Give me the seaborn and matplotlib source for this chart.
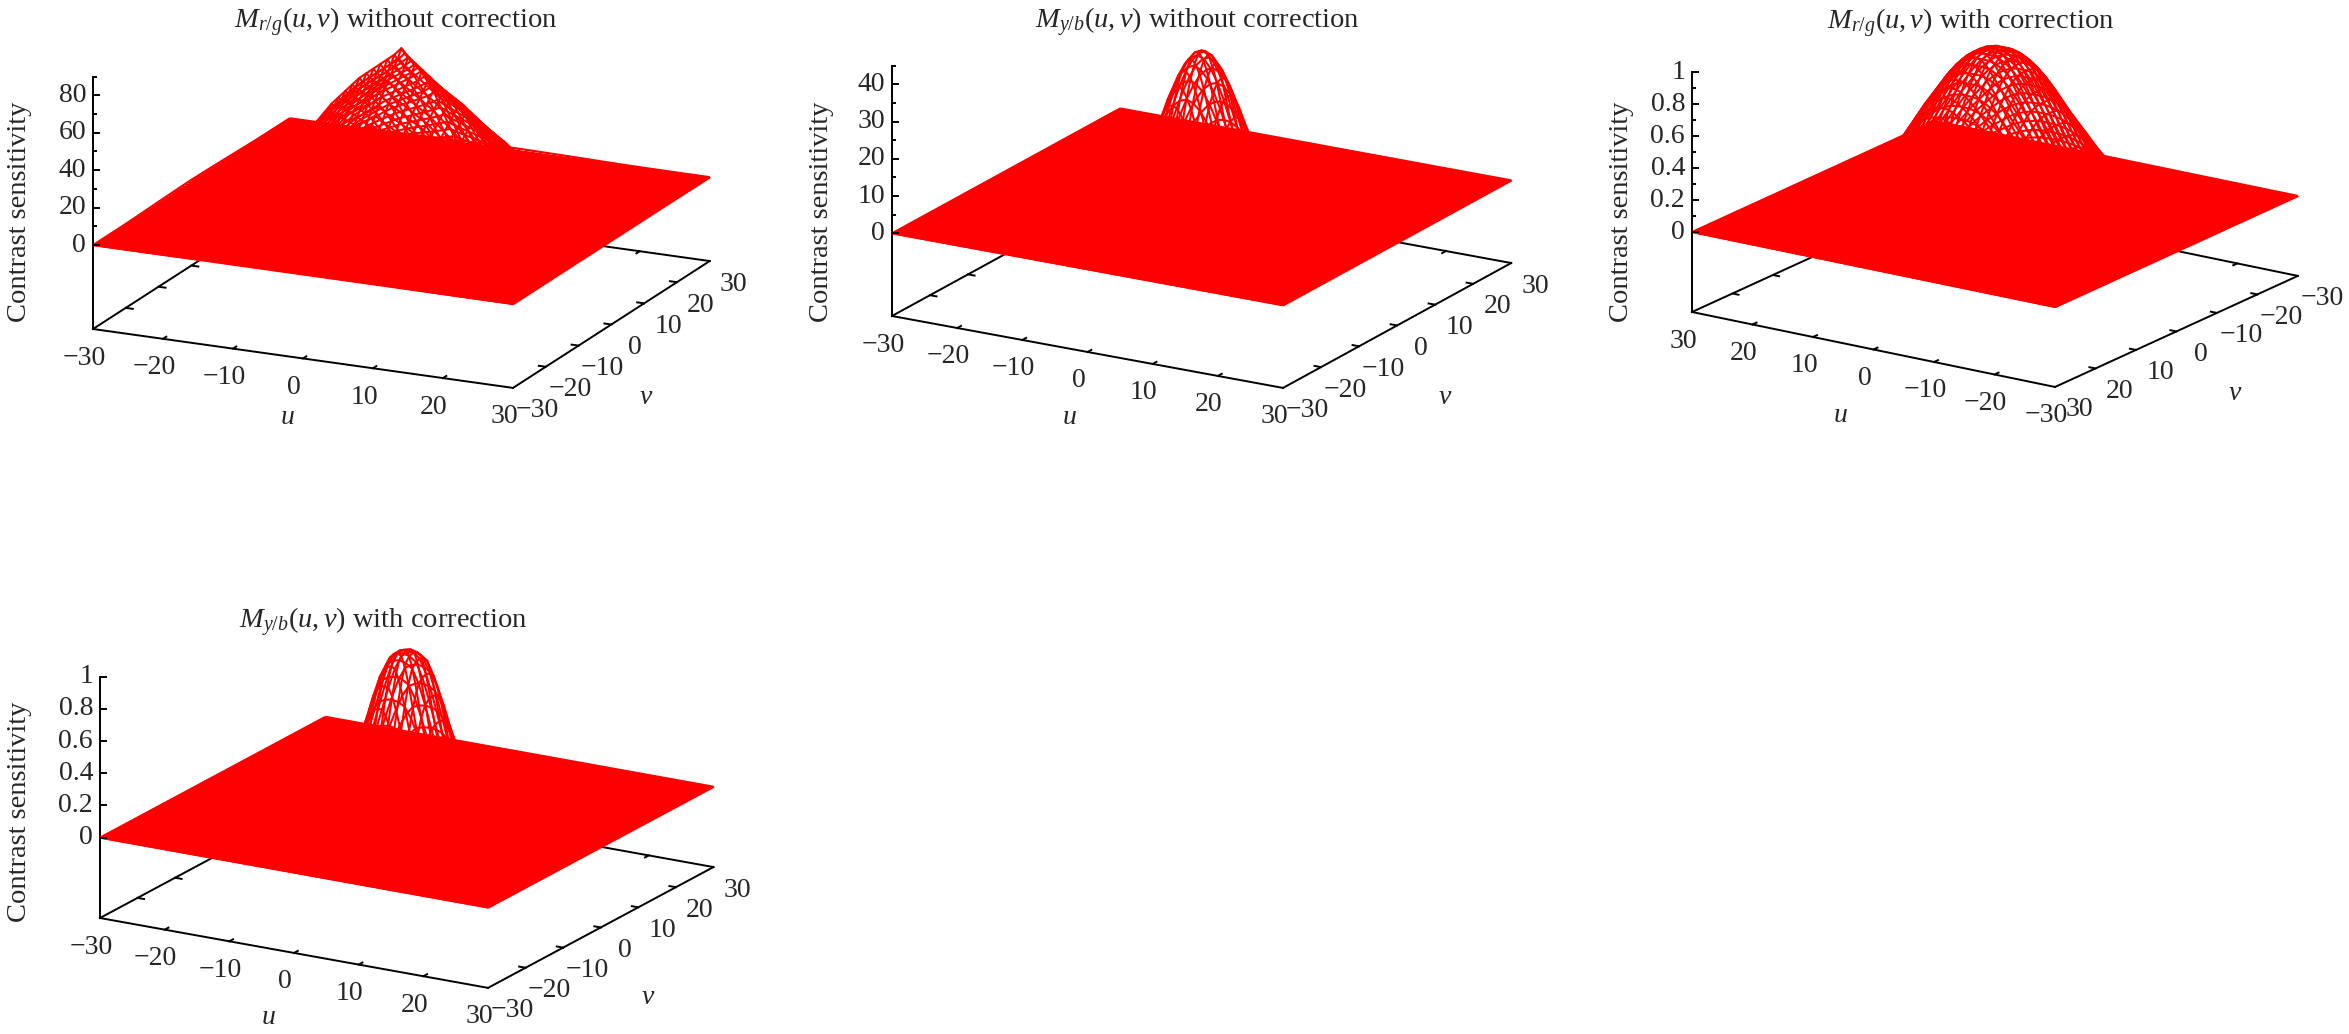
import numpy as np
import matplotlib
matplotlib.use('Agg')
import matplotlib.pyplot as plt
import seaborn as sns
from matplotlib.lines import Line2D
from matplotlib.transforms import IdentityTransform
from mpl_toolkits.mplot3d import proj3d

sns.set_theme(style="white", font="Liberation Serif")
plt.rcParams['mathtext.fontset'] = 'custom'
plt.rcParams['mathtext.rm'] = 'Liberation Serif'
plt.rcParams['mathtext.it'] = 'Liberation Serif:italic'

W, H = 2349, 1034
RED = '#fe0000'

# height of the surface along one axis, for |u| = 0, 1, ... 30
grid = np.arange(-30, 31)
rg_plain = [87, 83, 80, 77, 74, 71, 68, 64, 60, 56, 52, 47, 42, 37, 32, 27, 22, 18, 14, 11,
            8, 6, 5, 4, 3, 3, 2, 2, 2, 1, 1]
yb_plain = [42, 41.2, 39, 35.5, 31, 25.5, 20, 14.5, 10, 6, 3, 1.2, 0.3, 0, 0, 0, 0, 0, 0, 0,
            0, 0, 0, 0, 0, 0, 0, 0, 0, 0, 0]
rg_corr = [1.03, 1.03, 1.02, 1.0, 0.97, 0.93, 0.88, 0.82, 0.76, 0.7, 0.63, 0.56, 0.49, 0.42, 0.35, 0.29,
           0.23, 0.18, 0.14, 0.1, 0.07, 0.05, 0.03, 0.02, 0.01, 0.005, 0, 0, 0, 0, 0]
yb_corr = [1.01, 1.0, 0.97, 0.88, 0.75, 0.6, 0.45, 0.32, 0.2, 0.11, 0.05, 0.02, 0.005, 0, 0, 0,
           0, 0, 0, 0, 0, 0, 0, 0, 0, 0, 0, 0, 0, 0, 0]

uv_ticks = [-30, -20, -10, 0, 10, 20, 30]
z_major = [[0, 20, 40, 60, 80], [0, 10, 20, 30, 40], [0, 0.2, 0.4, 0.6, 0.8, 1], [0, 0.2, 0.4, 0.6, 0.8, 1]]
z_minor = [[10, 30, 50, 70, 90], [5, 15, 25, 35, 45], [0.1, 0.3, 0.5, 0.7, 0.9], []]
z_text = [['0', '20', '40', '60', '80'], ['0', '10', '20', '30', '40'],
          ['0', '0.2', '0.4', '0.6', '0.8', '1'], ['0', '0.2', '0.4', '0.6', '0.8', '1']]
z_limits = [(-44.8, 90), (-22.2, 45), (-0.5, 1), (-0.5, 1)]
titles = [r'$M_{r/g}(u,v)$ without correction', r'$M_{y/b}(u,v)$ without correction',
          r'$M_{r/g}(u,v)$ with correction', r'$M_{y/b}(u,v)$ with correction']
profiles = [rg_plain, yb_plain, rg_corr, yb_corr]

# layout in pixels of the target picture
views = [(17.5, -65), (18.5, -59.9), (17.9, 123.9), (18.1, -59.9)]
aspects = [(464, 466, 265), (452, 455, 264), (437, 435, 252), (449, 450, 254)]
left_corner = [(93, 329), (892, 316), (1692, 312), (100, 918)]
front_corner = [(513, 388), (1283, 388), (2055, 387), (488, 988)]
flip = [1, 1, -1, 1]
title_pos = [(396, 22), (1197, 22), (1971, 23), (383, 622)]
ylabel_pos = [(20, 212), (821, 212), (1622, 212), (20, 812)]
ulabel_pos = [(287, 417), (1069, 418), (1840, 415), (268, 1018)]
vlabel_pos = [(646, 397), (1445, 397), (2235, 394), (648, 997)]
u_off = (-9, 29)
v_off = (24, 23)

fig = plt.figure(figsize=(W / 100, H / 100), dpi=100)


def to_pixels(ax, u, v, z):
    x, y, _ = proj3d.proj_transform(u, v, z, ax.get_proj())
    px = ax.transData.transform((x, y))
    return px[0], H - px[1]


def put_text(x, y, s, **kw):
    fig.text(x / W, 1 - y / H, s, va='center', **kw)


def put_line(xs, ys):
    fig.add_artist(Line2D(xs, [H - y for y in ys], transform=IdentityTransform(),
                          color='black', lw=1.4, solid_capstyle='butt'))


def tick_text(val):
    return str(val).replace('-', '\u2212')


for i in range(4):
    side = 1200
    ax = fig.add_axes([0, 0, side / W, side / H], projection='3d', computed_zorder=False)
    ax.set_proj_type('ortho')
    ax.view_init(elev=views[i][0], azim=views[i][1])
    ax.set_xlim(-30, 30, view_margin=0)
    ax.set_ylim(-30, 30, view_margin=0)
    ax.set_zlim(*z_limits[i], view_margin=0)
    ax.set_axis_off()
    ax.patch.set_alpha(0)
    s = flip[i]
    zb, zt = z_limits[i]

    # scale and shift the box so its base corners land where they should
    ax.set_box_aspect(aspects[i], zoom=1)
    lc = to_pixels(ax, -30 * s, -30 * s, zb)
    fc = to_pixels(ax, 30 * s, -30 * s, zb)
    want = np.hypot(front_corner[i][0] - left_corner[i][0], front_corner[i][1] - left_corner[i][1])
    ax.set_box_aspect(aspects[i], zoom=want / np.hypot(fc[0] - lc[0], fc[1] - lc[1]))
    lc = to_pixels(ax, -30 * s, -30 * s, zb)
    dx = left_corner[i][0] - lc[0]
    dy = left_corner[i][1] - lc[1]
    ax.set_position([dx / W, -dy / H, side / W, side / H])

    # surface: the dense mesh reads as a solid sheet at z = 0
    p = np.array(profiles[i], dtype=float)[np.abs(grid)]
    Z = np.outer(p, p) / p.max()
    U, V = np.meshgrid(grid, grid, indexing='ij')
    ax.plot_wireframe(U, V, Z, rstride=1, cstride=1, color=RED, linewidth=1.5, zorder=3)
    ax.plot_surface(U, V, np.zeros_like(Z), rstride=60, cstride=60, color=RED, shade=False,
                    linewidth=0.8, edgecolor=RED, zorder=4)

    # base frame and z axis
    frame = dict(color='black', lw=1.4, zorder=1, solid_capstyle='projecting')
    ax.plot([-30, 30], [-30, -30], [zb, zb], **frame)
    ax.plot([-30, 30], [30, 30], [zb, zb], **frame)
    ax.plot([-30, -30], [-30, 30], [zb, zb], **frame)
    ax.plot([30, 30], [-30, 30], [zb, zb], **frame)
    ax.plot([-30 * s, -30 * s], [-30 * s, -30 * s], [zb, zt], **frame)

    for t in uv_ticks[1:-1]:
        ax.plot([t, t], [-30, -29], [zb, zb], **frame)
        ax.plot([t, t], [30, 29], [zb, zb], **frame)
        ax.plot([-30, -29], [t, t], [zb, zb], **frame)
        ax.plot([30, 29], [t, t], [zb, zb], **frame)

    for t in uv_ticks:
        x, y = to_pixels(ax, t, -30 * s, zb)
        put_text(x + u_off[0], y + u_off[1], tick_text(t), ha='center', fontsize=20)
        x, y = to_pixels(ax, 30 * s, t, zb)
        put_text(x + v_off[0], y + v_off[1], tick_text(t), ha='center', fontsize=20)

    for t, lab in zip(z_major[i], z_text[i]):
        x, y = to_pixels(ax, -30 * s, -30 * s, t)
        put_line([x, x + 7], [y, y])
        put_text(x - 7, y, lab, ha='right', fontsize=20)
    for t in z_minor[i]:
        x, y = to_pixels(ax, -30 * s, -30 * s, t)
        put_line([x, x + 4], [y, y])

    put_text(*title_pos[i], titles[i], ha='center', fontsize=20.5)
    put_text(*ylabel_pos[i], 'Contrast sensitivity', ha='center', rotation=90, fontsize=20.5)
    put_text(*ulabel_pos[i], '$u$', ha='center', fontsize=20)
    put_text(*vlabel_pos[i], '$v$', ha='center', fontsize=20)

fig.savefig('out.png', dpi=100)
